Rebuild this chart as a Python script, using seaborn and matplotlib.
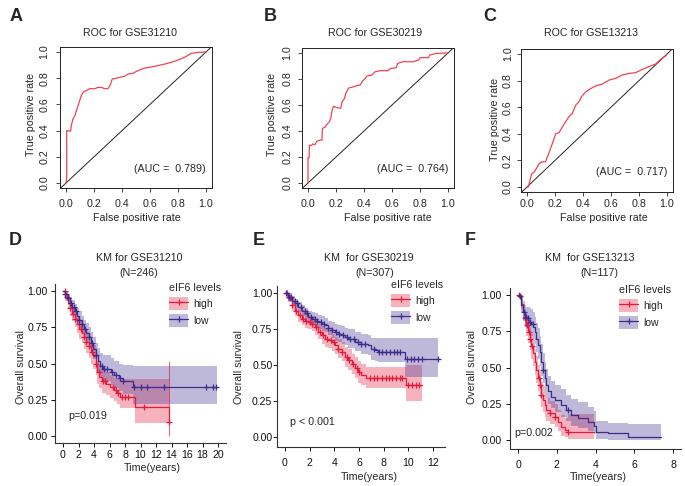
import numpy as np
import matplotlib
matplotlib.use("Agg")
import matplotlib.pyplot as plt
from matplotlib.patches import Patch
from matplotlib.lines import Line2D
from matplotlib.legend_handler import HandlerTuple
import seaborn as sns

sns.set_style("ticks")
plt.rcParams["font.family"] = ["Liberation Sans", "DejaVu Sans"]

W, H = 685, 486

# ---- ROC curves (false positive rate, true positive rate) ----
roc_a_fpr = [0.0, 0.005, 0.005, 0.033, 0.038, 0.05, 0.062, 0.074, 0.086, 0.098, 0.11, 0.129, 0.145,
             0.17, 0.205, 0.229, 0.252, 0.276, 0.30, 0.319, 0.33, 0.36, 0.383, 0.419, 0.443, 0.479,
             0.502, 0.526, 0.562, 0.598, 0.621, 0.657, 0.705, 0.752, 0.80, 0.848, 0.895, 0.943, 0.99, 1.0]
roc_a_tpr = [0.0, 0.04, 0.40, 0.395, 0.44, 0.49, 0.51, 0.55, 0.59, 0.63, 0.67, 0.70, 0.705,
             0.72, 0.72, 0.73, 0.73, 0.72, 0.72, 0.755, 0.794, 0.80, 0.807, 0.814, 0.832, 0.837,
             0.852, 0.863, 0.878, 0.883, 0.888, 0.896, 0.908, 0.921, 0.939, 0.96, 0.99, 0.997, 1.0, 1.0]

roc_b_fpr = [0.0, 0.0, 0.008, 0.01, 0.027, 0.033, 0.05, 0.062, 0.086, 0.1, 0.103, 0.122, 0.134, 0.153,
             0.163, 0.17, 0.182, 0.205, 0.234, 0.242, 0.26, 0.27, 0.29, 0.306, 0.325, 0.35, 0.373,
             0.39, 0.41, 0.42, 0.455, 0.48, 0.514, 0.574, 0.586, 0.63, 0.64, 0.68, 0.75, 0.79, 0.80,
             0.86, 0.87, 0.92, 0.98, 1.0]
roc_b_tpr = [0.0, 0.195, 0.195, 0.29, 0.29, 0.30, 0.295, 0.32, 0.33, 0.33, 0.42, 0.43, 0.45, 0.47,
             0.50, 0.55, 0.59, 0.58, 0.575, 0.62, 0.65, 0.69, 0.73, 0.735, 0.74, 0.75, 0.754,
             0.785, 0.805, 0.823, 0.83, 0.856, 0.864, 0.864, 0.88, 0.887, 0.92, 0.933, 0.933, 0.946,
             0.964, 0.964, 0.985, 0.997, 1.0, 1.0]

roc_c_fpr = [0.0, 0.01, 0.019, 0.033, 0.05, 0.062, 0.086, 0.11, 0.133, 0.145, 0.157, 0.181, 0.205,
             0.229, 0.252, 0.276, 0.30, 0.324, 0.348, 0.371, 0.39, 0.42, 0.455, 0.49, 0.538, 0.586,
             0.633, 0.68, 0.729, 0.776, 0.824, 0.871, 0.919, 0.955, 0.99, 1.0]
roc_c_tpr = [0.0, 0.0, 0.04, 0.10, 0.11, 0.13, 0.175, 0.19, 0.19, 0.226, 0.256, 0.327, 0.40,
             0.41, 0.45, 0.49, 0.53, 0.553, 0.616, 0.64, 0.68, 0.716, 0.74, 0.76, 0.774, 0.804,
             0.817, 0.842, 0.854, 0.86, 0.884, 0.905, 0.925, 0.96, 0.985, 1.0]

roc_titles = ["ROC for GSE31210", "ROC for GSE30219", "ROC for GSE13213"]
roc_auc = ["0.789", "0.764", "0.717"]

# ---- KM curves: step times, survival, CI lower, CI upper, censor times ----
d_high_t = [0, 0.3, 0.6, 0.9, 1.2, 1.5, 1.8, 2.1, 2.4, 2.7, 3.0, 3.3, 3.6, 3.9, 4.2, 4.4, 4.7, 5.0, 5.5,
            6.0, 6.6, 7.0, 7.4, 9.3, 13.7]
d_high_s = [1.0, .96, .92, .88, .84, .81, .77, .74, .71, .68, .65, .62, .58, .55, .50, .44, .41, .38, .36,
            .34, .32, .30, .27, .20, .10]
d_high_lo = [1.0, .93, .88, .83, .79, .75, .71, .67, .64, .60, .57, .54, .50, .46, .42, .36, .33, .30, .28,
             .26, .24, .22, .19, .09, 0.0]
d_high_up = [1.0, .99, .96, .93, .89, .87, .83, .80, .77, .75, .72, .69, .66, .63, .58, .52, .49, .46, .44,
             .42, .40, .39, .39, .39, .52]
d_high_cens = [0.2, 0.5, 0.9, 1.3, 1.6, 2.0, 2.3, 2.7, 3.0, 3.4, 3.8, 4.3, 4.6, 5.2, 5.4, 6.4, 6.9, 7.1,
               7.6, 8.0, 8.4, 10.4, 13.7]
d_low_t = [0, 0.3, 0.6, 0.9, 1.2, 1.5, 1.8, 2.1, 2.4, 2.7, 3.0, 3.3, 3.6, 3.9, 4.2, 4.5, 4.8, 5.1, 5.6,
           6.2, 6.6, 7.2, 7.8, 9.0, 19.9]
d_low_s = [1.0, .98, .95, .92, .89, .86, .83, .80, .77, .74, .71, .68, .64, .60, .56, .52, .48, .46, .46,
           .44, .42, .40, .38, .335, .335]
d_low_lo = [1.0, .96, .92, .88, .85, .81, .78, .74, .71, .68, .64, .61, .57, .53, .48, .44, .40, .38, .38,
            .35, .33, .31, .29, .22, .22]
d_low_up = [1.0, 1.0, .98, .96, .94, .91, .88, .86, .83, .80, .78, .75, .72, .68, .64, .61, .57, .56, .56,
            .54, .52, .50, .49, .485, .485]
d_low_cens = [0.3, 0.6, 1.0, 1.4, 1.7, 2.1, 2.5, 2.9, 3.3, 3.7, 4.3, 5.0, 5.3, 5.7, 6.3, 6.8, 7.3, 7.8,
              9.1, 10.0, 10.8, 13.0, 18.5, 19.3, 19.8]

e_high_t = [0, 0.27, 0.54, 0.81, 1.08, 1.35, 1.6, 1.9, 2.16, 2.43, 2.7, 2.97, 3.24, 3.5, 3.78, 4.05, 4.3,
            4.6, 4.86, 5.1, 5.4, 5.68, 5.95, 6.2, 6.6, 9.8, 11.1]
e_high_s = [1.0, .965, .92, .88, .85, .825, .81, .80, .79, .765, .73, .71, .685, .675, .66, .64, .615,
            .595, .56, .54, .51, .48, .455, .43, .41, .36, .36]
e_high_lo = [1.0, .94, .88, .84, .80, .78, .76, .75, .74, .71, .68, .65, .63, .62, .60, .58, .55,
             .53, .49, .47, .44, .41, .38, .36, .34, .25, .25]
e_high_up = [1.0, .99, .96, .92, .89, .87, .86, .85, .84, .82, .79, .77, .75, .74, .72, .70, .68,
             .66, .63, .61, .58, .56, .53, .51, .49, .50, .50]
e_high_cens = [0.2, 0.4, 0.6, 0.9, 1.2, 1.5, 1.7, 2.0, 2.2, 2.5, 2.8, 3.1, 3.4, 3.7, 4.0, 4.3, 4.6, 5.0,
               5.2, 5.5, 5.8, 6.0, 6.9, 7.2, 7.5, 7.9, 8.2, 8.4, 8.7, 9.0, 9.3, 9.5, 10.0, 10.3, 10.6, 10.9]
e_low_t = [0, 0.27, 0.54, 0.81, 1.08, 1.35, 1.62, 1.9, 2.16, 2.43, 2.7, 2.97, 3.24, 3.5, 3.78, 4.05, 4.3,
           4.6, 4.86, 5.1, 5.68, 6.2, 6.76, 7.0, 7.3, 7.57, 9.7, 12.4]
e_low_s = [1.0, .975, .95, .93, .905, .88, .86, .835, .825, .81, .80, .79, .78, .76, .745, .73, .72,
           .71, .70, .685, .665, .65, .64, .615, .605, .595, .545, .545]
e_low_lo = [1.0, .95, .92, .90, .87, .84, .82, .79, .78, .76, .75, .74, .73, .71, .69, .67, .66,
            .65, .64, .62, .60, .58, .57, .54, .53, .52, .42, .42]
e_low_up = [1.0, 1.0, .98, .96, .94, .92, .90, .88, .87, .86, .85, .84, .83, .81, .80, .79, .78,
            .77, .76, .75, .73, .72, .71, .69, .69, .69, .69, .69]
e_low_cens = [0.1, 0.3, 0.5, 0.8, 1.0, 1.3, 1.6, 1.8, 2.1, 2.4, 2.6, 2.9, 3.2, 3.5, 3.8, 4.1, 4.4, 4.7,
              5.0, 5.3, 5.6, 5.9, 6.2, 6.5, 7.2, 7.6, 7.9, 8.2, 8.5, 8.8, 9.1, 9.3, 9.9, 10.2, 10.5,
              10.8, 11.1, 12.4]

f_high_t = [0, 0.09, 0.14, 0.26, 0.34, 0.43, 0.52, 0.6, 0.69, 0.77, 0.86, 0.95, 1.03, 1.12, 1.2, 1.29,
            1.38, 1.46, 1.63, 1.89, 2.07, 2.24, 2.41, 2.58, 3.92]
f_high_s = [1.0, .99, .94, .885, .84, .79, .745, .70, .645, .60, .54, .485, .425, .38, .31, .275,
            .24, .205, .185, .16, .125, .09, .07, .055, .055]
f_high_lo = [1.0, .97, .90, .83, .78, .72, .67, .62, .56, .51, .45, .39, .34, .29, .23, .19,
             .16, .13, .11, .09, .06, .03, .02, .01, .01]
f_high_up = [1.0, 1.0, .98, .94, .90, .86, .82, .78, .73, .69, .63, .58, .52, .47, .40, .37,
             .33, .29, .27, .25, .21, .17, .15, .18, .18]
f_high_cens = [0.05, 0.35, 0.45, 0.5, 0.55, 0.6, 0.7, 1.1, 1.15, 1.2, 1.65, 1.9, 2.6]
f_low_t = [0, 0.09, 0.17, 0.26, 0.34, 0.43, 0.52, 0.6, 0.69, 0.77, 0.86, 0.95, 1.03, 1.12, 1.2, 1.29,
           1.38, 1.46, 1.55, 1.72, 1.89, 2.24, 2.5, 2.75, 3.1, 3.6, 3.92, 4.0, 4.65, 5.7, 7.4]
f_low_s = [1.0, .99, .93, .885, .85, .84, .83, .815, .80, .78, .745, .70, .655, .61, .54, .485,
           .425, .38, .335, .30, .275, .24, .205, .17, .15, .125, .10, .055, .045, .022, .022]
f_low_lo = [1.0, .97, .88, .82, .78, .77, .75, .74, .72, .70, .66, .61, .56, .51, .44, .39,
            .33, .29, .25, .22, .19, .16, .13, .10, .08, .06, .04, .01, .0, .0, .0]
f_low_up = [1.0, 1.0, .99, .96, .93, .92, .92, .91, .90, .88, .85, .81, .77, .72, .66, .60,
            .54, .49, .44, .41, .38, .35, .31, .28, .26, .23, .20, .13, .12, .11, .11]
f_low_cens = [0.1, 0.3, 0.4, 0.5, 0.6, 0.75, 1.3, 2.6]

km_titles = [("KM for GSE31210", "(N=246)"), ("KM  for GSE30219", "(N=307)"), ("KM  for GSE13213", "(N=117)")]
km_pvals = ["p=0.019", "p < 0.001", "p=0.002"]
km_xmax = [20, 12, 8]
groups = ["high", "low"]

RED, BLUE = "#E41A3C", "#3D2B8E"
ROC_RED = "#EE4454"
FS = 7.7

fig = plt.figure(figsize=(W / 100, H / 100), dpi=100)


def px_axes(x0, xs, xlim, y0, ys, ylim):
    """Axes placed so that data 0 sits at pixel x0/y0 with xs/ys pixels per unit."""
    left = x0 + xlim[0] * xs
    right = x0 + xlim[1] * xs
    top = y0 - ylim[1] * ys
    bottom = y0 - ylim[0] * ys
    ax = fig.add_axes([left / W, 1 - bottom / H, (right - left) / W, (bottom - top) / H])
    ax.set_xlim(xlim)
    ax.set_ylim(ylim)
    return ax


def ftext(x, y, s, **kw):
    kw.setdefault("fontsize", FS)
    fig.text(x / W, 1 - y / H, s, ha=kw.pop("ha", "center"), va=kw.pop("va", "center"), **kw)


def draw_roc(ax, fpr, tpr, auc, pad_x, pad_y):
    ax.axline((0, 0), slope=1, color="#222222", lw=0.7)
    sns.lineplot(x=fpr, y=tpr, ax=ax, color=ROC_RED, lw=0.9, estimator=None, sort=False)
    ticks = np.arange(0, 1.01, 0.2)
    ax.set_xticks(ticks)
    ax.set_yticks(ticks)
    ax.set_xticklabels([f"{v:.1f}" for v in ticks])
    ax.set_yticklabels([f"{v:.1f}" for v in ticks], rotation=90, va="center")
    ax.tick_params(axis="x", length=3, width=0.6, pad=pad_x, labelsize=FS)
    ax.tick_params(axis="y", length=3, width=0.6, pad=pad_y, labelsize=FS)
    for sp in ax.spines.values():
        sp.set_linewidth(0.7)
        sp.set_color("#222222")
    ax.text(1.0, 0.11, f"(AUC =  {auc})", ha="right", va="center", fontsize=FS)


def step_at(t, s, when):
    idx = np.searchsorted(t, when, side="right") - 1
    return np.asarray(s)[idx]


def draw_km(ax, curves, xmax, pval, pval_pos, pad_x, pad_y):
    for (t, s, lo, up, cens), col in zip(curves, [RED, BLUE]):
        ax.fill_between(t, lo, up, step="post", color=col, alpha=0.33, lw=0)
        sns.lineplot(x=t, y=s, ax=ax, color=col, lw=0.9, drawstyle="steps-post",
                     estimator=None, sort=False)
        ax.plot(cens, step_at(t, s, cens), ls="none", marker="+", ms=5, mew=0.9, color=col)
        # a curve ending on an event keeps its last CI as a thin vertical segment
        if s[-1] < s[-2]:
            ax.vlines(t[-1], lo[-1], up[-1], color=col, lw=0.5)
    ax.set_xticks(np.arange(0, xmax + 1, 2))
    ax.set_yticks([0, 0.25, 0.5, 0.75, 1.0])
    ax.set_yticklabels(["0.00", "0.25", "0.50", "0.75", "1.00"])
    ax.tick_params(axis="x", length=3, width=0.7, pad=pad_x, labelsize=7.6, colors="#111111")
    ax.tick_params(axis="y", length=3, width=0.7, pad=pad_y, labelsize=7.6, colors="#111111")
    sns.despine(ax=ax)
    for sp in ("left", "bottom"):
        ax.spines[sp].set_linewidth(0.8)
        ax.spines[sp].set_color("#333333")
    ax.text(pval_pos[0], pval_pos[1], pval, ha="left", va="center", fontsize=FS)


# ---- top row: ROC ----
roc_layout = [
    dict(x0=66, y0=183, ys=131, pad_x=5, pad_y=5, title=(130, 33), ylab=(31, 114), xlab=(137, 218), letter=(16.5, 16.5), L="A"),
    dict(x0=308, y0=183, ys=130, pad_x=5, pad_y=4, title=(375, 33), ylab=(272, 114), xlab=(388, 218), letter=(270, 16.5), L="B"),
    dict(x0=527, y0=187, ys=133, pad_x=1.5, pad_y=3, title=(591, 33), ylab=(495, 119), xlab=(604, 218), letter=(490, 16.5), L="C"),
]
roc_data = [(roc_a_fpr, roc_a_tpr), (roc_b_fpr, roc_b_tpr), (roc_c_fpr, roc_c_tpr)]
for lay, (fpr, tpr), title, auc in zip(roc_layout, roc_data, roc_titles, roc_auc):
    ax = px_axes(lay["x0"], 140, (-0.04, 1.04), lay["y0"], lay["ys"], (-0.04, 1.04))
    draw_roc(ax, fpr, tpr, auc, lay["pad_x"], lay["pad_y"])
    ftext(*lay["title"], title)
    ftext(*lay["ylab"], "True positive rate", rotation=90)
    ftext(*lay["xlab"], "False positive rate")
    ftext(*lay["letter"], lay["L"], fontsize=13, fontweight="bold")

# ---- bottom row: KM ----
km_curves = [
    [(d_high_t, d_high_s, d_high_lo, d_high_up, d_high_cens), (d_low_t, d_low_s, d_low_lo, d_low_up, d_low_cens)],
    [(e_high_t, e_high_s, e_high_lo, e_high_up, e_high_cens), (e_low_t, e_low_s, e_low_lo, e_low_up, e_low_cens)],
    [(f_high_t, f_high_s, f_high_lo, f_high_up, f_high_cens), (f_low_t, f_low_s, f_low_lo, f_low_up, f_low_cens)],
]
km_layout = [
    dict(x0=63, xs=7.75, xlim=(-1, 21), y0=436, ys=145, ylim=(-0.05, 1.05), pad_x=1.5, pad_y=2.5,
         pv=(0.65, 0.14), t1=(139, 258), t2=(139, 273), ylab=(21, 367), xlab=(152, 468), leg=(169, 283),
         letter=(15, 240.5), L="D"),
    dict(x0=285, xs=12.33, xlim=(-0.62, 13.0), y0=437.3, ys=144, ylim=(-0.07, 1.05), pad_x=4.5, pad_y=0.5,
         pv=(0.4, 0.106), t1=(369, 258), t2=(374.5, 273), ylab=(239, 367), xlab=(369, 477), leg=(391, 280),
         letter=(259, 240.5), L="E"),
    dict(x0=518, xs=19.375, xlim=(-0.4, 8.4), y0=440, ys=145, ylim=(-0.065, 1.05), pad_x=4.5, pad_y=3,
         pv=(-0.2, 0.048), t1=(590, 258), t2=(599, 273), ylab=(472, 367), xlab=(598, 477), leg=(619, 285),
         letter=(470, 240.5), L="F"),
]
for lay, curves, (t1, t2), pval, xmax in zip(km_layout, km_curves, km_titles, km_pvals, km_xmax):
    ax = px_axes(lay["x0"], lay["xs"], lay["xlim"], lay["y0"], lay["ys"], lay["ylim"])
    draw_km(ax, curves, xmax, pval, lay["pv"], lay["pad_x"], lay["pad_y"])
    ftext(*lay["t1"], t1)
    ftext(*lay["t2"], t2)
    ftext(*lay["ylab"], "Overall survival", rotation=90)
    ftext(*lay["xlab"], "Time(years)")
    ftext(*lay["letter"], lay["L"], fontsize=13, fontweight="bold")
    handles = [(Patch(facecolor=c, alpha=0.33, lw=0),
                Line2D([], [], color=c, lw=0.9, marker="+", ms=5, mew=0.9)) for c in (RED, BLUE)]
    fig.legend(handles, groups, title="eIF6 levels", loc="upper left",
               bbox_to_anchor=(lay["leg"][0] / W, 1 - lay["leg"][1] / H),
               frameon=False, fontsize=7.5, title_fontsize=FS, alignment="left",
               handler_map={tuple: HandlerTuple(ndivide=1)},
               handlelength=1.85, handleheight=1.55, labelspacing=0.38, handletextpad=0.5,
               borderpad=0, borderaxespad=0)

fig.savefig("out.png", dpi=100)
